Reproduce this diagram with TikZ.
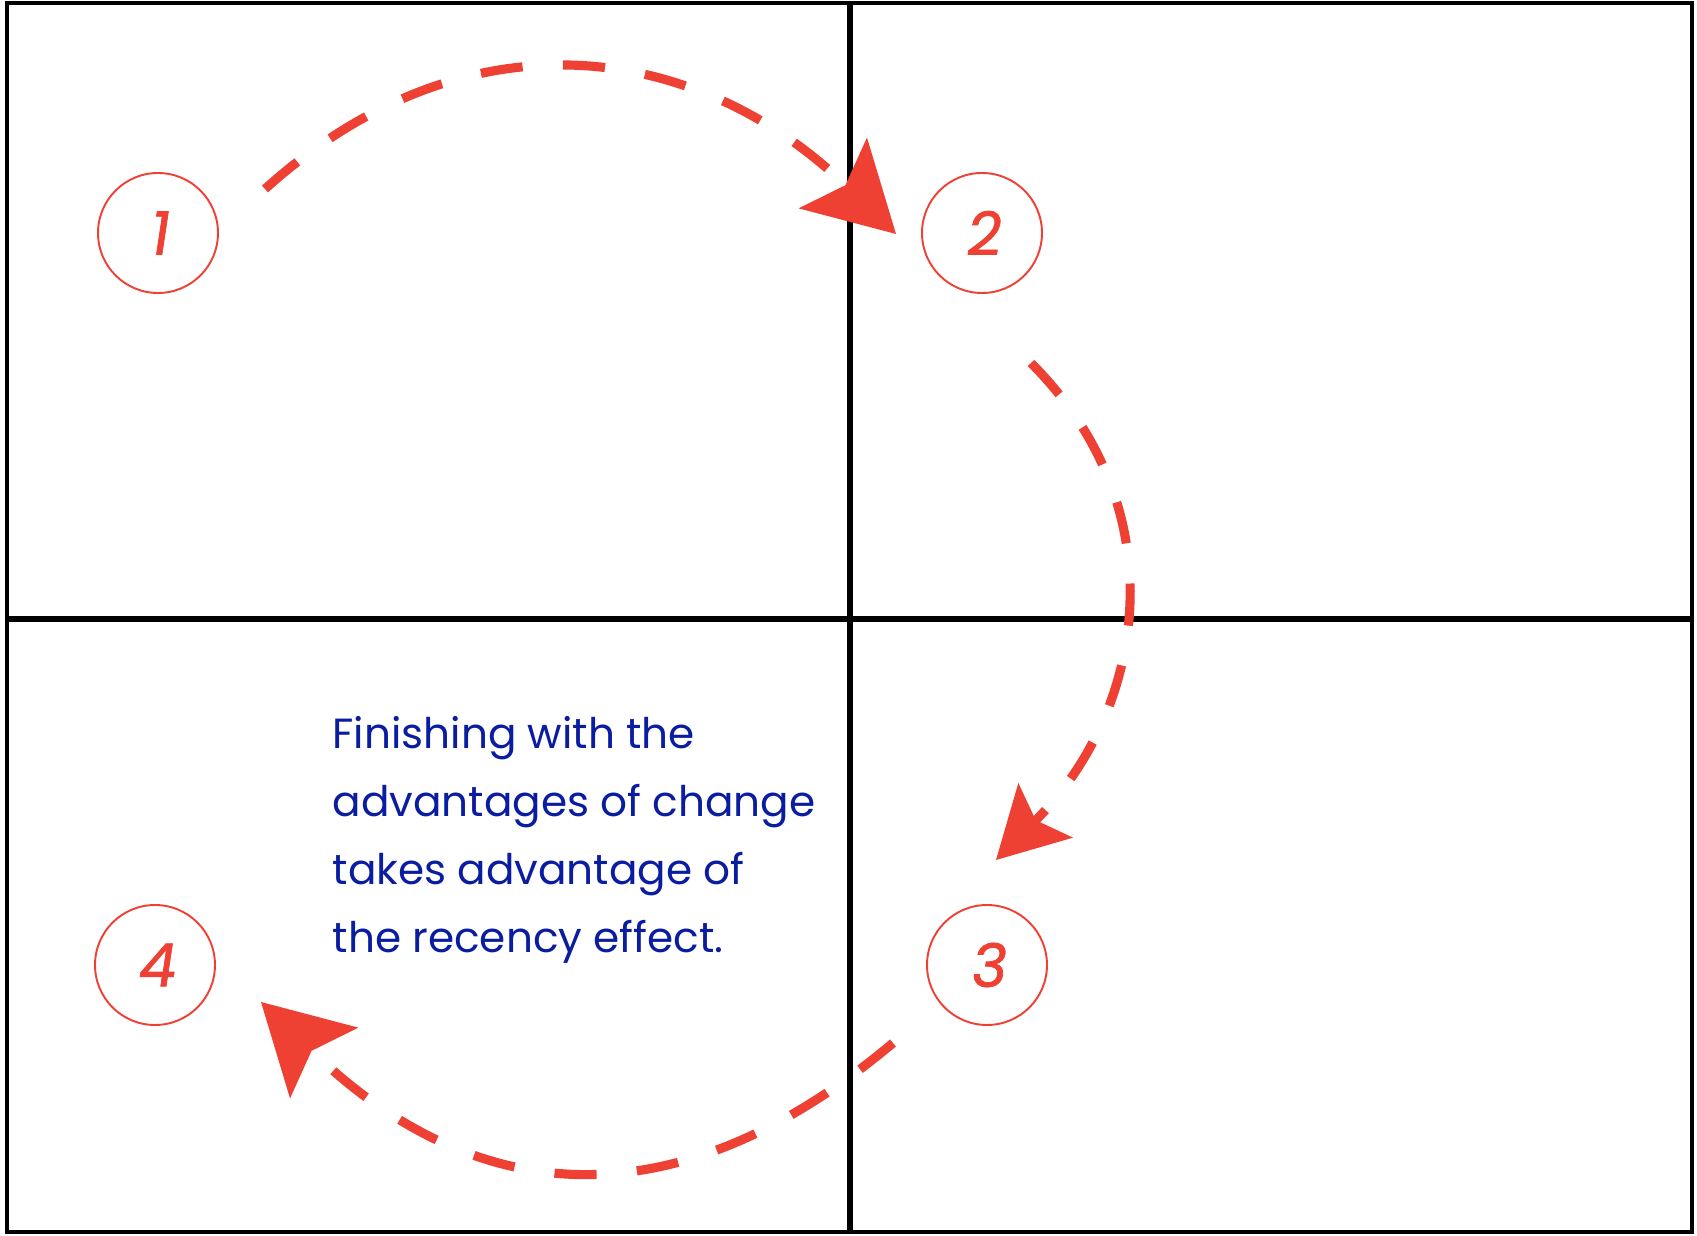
\documentclass[tikz,border=0pt]{standalone}
\usepackage{fontspec}
\setmainfont{Poppins}
\newfontfamily\numfont[FakeSlant=0.15,FakeBold=1.2]{Poppins}
\usetikzlibrary{arrows.meta,positioning,calc}
\definecolor{fred}{HTML}{EF4034}
\definecolor{fblue}{HTML}{0A1CA0}
\tikzset{
  stepnode/.style = {draw=fred, line width=0.55pt, circle, inner sep=0pt,
                     minimum size=1.2cm, text=fred,
                     font=\numfont\fontsize{17}{20}\selectfont},
  divider/.style  = {line width=1.6pt},
  flow/.style     = {fred, line width=2.6pt, dash pattern=on 12pt off 11.5pt},
  bigtip/.style   = {-{Stealth[length=25pt,width=28pt,inset=5pt,line width=0pt]}},
  smalltip/.style = {-{Stealth[length=20pt,width=22pt,inset=4pt,line width=0pt]}},
}

\begin{document}
\begin{tikzpicture}[x=1cm,y=1cm]
\useasboundingbox (0,0) rectangle (16.97,12.35);
\draw[line width=1pt] (0.07,0.03) rectangle (16.92,12.32);
\draw[divider] (8.50,0.03) -- (8.50,12.32);
\draw[divider] (0.07,6.16) -- (16.92,6.16);
\node[stepnode] (n1) at (1.58,10.02) {1};
\node[stepnode] (n2) at (9.82,10.02) {2};
\node[stepnode] (n3) at (9.87,2.70) {3};
\node[stepnode] (n4) at (1.55,2.70) {4};
% arc end points, kept clear of the circles
\coordinate (a1) at ($(n1)+(1.07,0.44)$);
\coordinate (b1) at ($(n2)+(-0.86,-0.01)$);
\coordinate (a2) at ($(n2)+(0.49,-1.30)$);
\coordinate (b2) at ($(n3)+(0.09,1.05)$);
\coordinate (a3) at ($(n3)+(-0.94,-0.78)$);
\coordinate (b3) at ($(n4)+(1.06,-0.37)$);
\draw[flow,bigtip] (a1) to[out=42,in=136,distance=2.74cm] (b1);
\draw[flow,smalltip] (a2) to[out=-45,in=45,distance=2.1cm] (b2);
\draw[flow,bigtip] (a3) to[out=220,in=-44,distance=2.91cm] (b3);
\node[fblue,font=\fontsize{12}{19.3}\selectfont,align=left,anchor=north west,inner sep=0pt]
  (note) at (3.32,5.19)
  {Finishing with the\\ advantages of change\\ takes advantage of\\ the recency effect.};
\end{tikzpicture}
\end{document}
